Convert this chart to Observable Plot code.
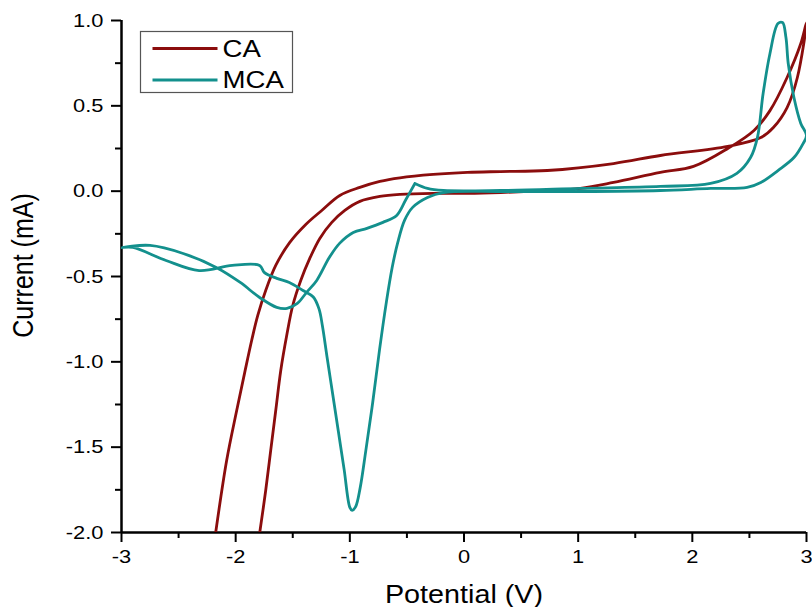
<!DOCTYPE html>
<html>
<head>
<meta charset="utf-8">
<script src="https://cdn.jsdelivr.net/npm/d3@7"></script>
<script src="https://cdn.jsdelivr.net/npm/@observablehq/plot@0.6"></script>
<style>
  html, body { margin: 0; padding: 0; background: #fff; }
  #chart { width: 812px; height: 607px; }
</style>
</head>
<body>
<div id="chart"></div>
<script>
// Cyclic voltammograms: potential (V) against current (mA), one closed sweep per sample.
const caPotential = [-1.789, -1.737, -1.693, -1.649, -1.605, -1.553, -1.500, -1.430, -1.351, -1.263, -1.158, -1.044, -0.912, -0.737, -0.56, -0.27, 0.03, 0.32, 0.73, 1.02, 1.31, 1.72, 2.01, 2.31, 2.54, 2.68, 2.83, 2.95, 3.00,
  2.92, 2.83, 2.71, 2.60, 2.31, 1.72, 1.31, 0.73, 0.32, 0.03, -0.27, -0.561, -0.737, -0.912, -1.088, -1.246, -1.386, -1.526, -1.649, -1.737, -1.807, -1.860, -1.921, -1.991, -2.079, -2.175];
const caCurrent = [-2.000, -1.754, -1.519, -1.285, -1.051, -0.846, -0.670, -0.523, -0.394, -0.277, -0.183, -0.113, -0.060, -0.031, -0.019, -0.013, -0.013, -0.008, 0.004, 0.016, 0.051, 0.11, 0.145, 0.25, 0.356, 0.472, 0.666, 0.865, 0.988,
  0.666, 0.49, 0.373, 0.314, 0.262, 0.209, 0.162, 0.121, 0.115, 0.11, 0.098, 0.078, 0.057, 0.022, -0.025, -0.113, -0.195, -0.300, -0.435, -0.582, -0.729, -0.875, -1.063, -1.285, -1.578, -2.000];

const mcaPotential = [-0.43, -0.32, -0.18, 0.32, 1.02, 1.72, 2.16, 2.39, 2.51, 2.57, 2.62, 2.68, 2.75, 2.79, 2.82, 2.84, 2.89, 2.95, 3.00,
  2.97, 2.89, 2.75, 2.60, 2.48, 2.16, 1.72, 1.02, 0.32, -0.18, -0.32, -0.45, -0.52, -0.58, -0.63, -0.68, -0.74, -0.80, -0.86, -0.91, -0.95, -0.98, -1.00, -1.05, -1.10, -1.15, -1.20, -1.24, -1.27, -1.32, -1.41, -1.53, -1.64, -1.75, -1.79, -2.03, -2.32, -2.61, -2.90, -3.00,
  -2.75, -2.46, -2.17, -1.96, -1.79, -1.64, -1.55, -1.46, -1.38, -1.29, -1.18, -1.09, -0.97, -0.85, -0.71, -0.59, -0.51, -0.43];
const mcaCurrent = [0.045, 0.016, 0.004, 0.004, 0.016, 0.028, 0.045, 0.104, 0.197, 0.314, 0.572, 0.807, 0.982, 0.988, 0.90, 0.748, 0.549, 0.397, 0.326,
  0.279, 0.197, 0.121, 0.051, 0.022, 0.016, 0.004, -0.002, -0.002, -0.008, -0.037, -0.095, -0.17, -0.30, -0.45, -0.65, -0.93, -1.24, -1.52, -1.74, -1.85, -1.87, -1.853, -1.63, -1.41, -1.19, -0.97, -0.79, -0.69, -0.62, -0.582, -0.535, -0.511, -0.476, -0.435, -0.435, -0.465, -0.406, -0.33, -0.33,
  -0.318, -0.365, -0.447, -0.535, -0.623, -0.681, -0.687, -0.658, -0.594, -0.523, -0.389, -0.306, -0.242, -0.218, -0.183, -0.142, -0.05, 0.045];

const seriesNames = ["CA", "MCA"];
const seriesColors = ["#8b0d0d", "#13908d"];

const xTicks = [-3, -2, -1, 0, 1, 2, 3];
const xMinorTicks = [-2.5, -1.5, -0.5, 0.5, 1.5, 2.5];
const yTicks = [-2.0, -1.5, -1.0, -0.5, 0.0, 0.5, 1.0];
const yMinorTicks = [-1.75, -1.25, -0.75, -0.25, 0.25, 0.75];

const xTitle = "Potential (V)";
const yTitle = "Current (mA)";

// Long-format table for the line mark; "order" keeps each sweep in scan order.
const rows = [
  ...caPotential.map((v, i) => ({series: seriesNames[0], order: i, potential: v, current: caCurrent[i]})),
  ...mcaPotential.map((v, i) => ({series: seriesNames[1], order: i, potential: v, current: mcaCurrent[i]}))
];

const font = "'Liberation Sans', Arial, Helvetica, sans-serif";

const plot = Plot.plot({
  width: 812,
  height: 607,
  marginLeft: 121,
  marginRight: 6,
  marginTop: 20,
  marginBottom: 75,
  style: {fontFamily: font, background: "#fff", color: "#000", overflow: "visible"},
  x: {domain: [xTicks[0], xTicks[xTicks.length - 1]]},
  y: {domain: [yTicks[0], yTicks[yTicks.length - 1]]},
  color: {domain: seriesNames, range: seriesColors},
  marks: [
    Plot.axisX({ticks: xMinorTicks, tickSize: 6, tickFormat: () => "", strokeWidth: 2, label: null}),
    Plot.axisX({ticks: xTicks, tickSize: 10, tickPadding: 7, tickFormat: (d) => String(d), fontSize: 19, strokeWidth: 2, label: null}),
    Plot.axisY({ticks: yMinorTicks, tickSize: 6, tickFormat: () => "", strokeWidth: 2, label: null}),
    Plot.axisY({ticks: yTicks, tickSize: 10, tickPadding: 8, tickFormat: (d) => d.toFixed(1), fontSize: 19, strokeWidth: 2, label: null}),
    Plot.ruleY([yTicks[0]], {stroke: "#000", strokeWidth: 2.5}),
    Plot.ruleX([xTicks[0]], {stroke: "#000", strokeWidth: 2.5}),
    Plot.line(rows, {
      x: "potential", y: "current", z: "series", stroke: "series", sort: null,
      strokeWidth: 2.8, curve: "catmull-rom", clip: true
    }),
    Plot.text([xTitle], {text: (d) => d, frameAnchor: "bottom", textAnchor: "middle", dy: 62, fontSize: 25, lineAnchor: "middle", fill: "#000"}),
    Plot.text([yTitle], {text: (d) => d, frameAnchor: "left", textAnchor: "middle", rotate: -90, dx: -98, dy: -11, fontSize: 25, lineAnchor: "middle", fill: "#000"})
  ]
});

// Slightly widen the lettering around each label's own anchor point.
const STRETCH = 1.15;
plot.querySelectorAll("text").forEach((t) => {
  const tr = t.getAttribute("transform");
  if (tr) {
    t.setAttribute("transform", tr + (tr.includes("rotate") ? ` scale(1,${STRETCH})` : ` scale(${STRETCH},1)`));
  } else {
    const x = +(t.getAttribute("x") || 0), y = +(t.getAttribute("y") || 0);
    t.setAttribute("transform", `translate(${x},${y}) scale(${STRETCH},1) translate(${-x},${-y})`);
  }
});

// Boxed legend in the upper-left corner of the frame.
const legend = d3.select(plot).append("g")
  .attr("transform", "translate(140.5,31.5)")
  .attr("font-family", font)
  .attr("text-anchor", "start");
legend.append("rect")
  .attr("width", 152).attr("height", 61)
  .attr("fill", "#fff").attr("stroke", "#555").attr("stroke-width", 1.2);
seriesNames.forEach((name, i) => {
  const cy = 17 + i * 31.5;
  legend.append("line")
    .attr("x1", 12).attr("x2", 77).attr("y1", cy).attr("y2", cy)
    .attr("stroke", seriesColors[i]).attr("stroke-width", 3);
  legend.append("text")
    .attr("transform", `translate(82,${cy}) scale(${STRETCH},1)`)
    .attr("dy", "0.35em")
    .attr("font-size", 24)
    .attr("fill", "#000")
    .text(name);
});

document.getElementById("chart").appendChild(plot);
</script>
</body>
</html>
